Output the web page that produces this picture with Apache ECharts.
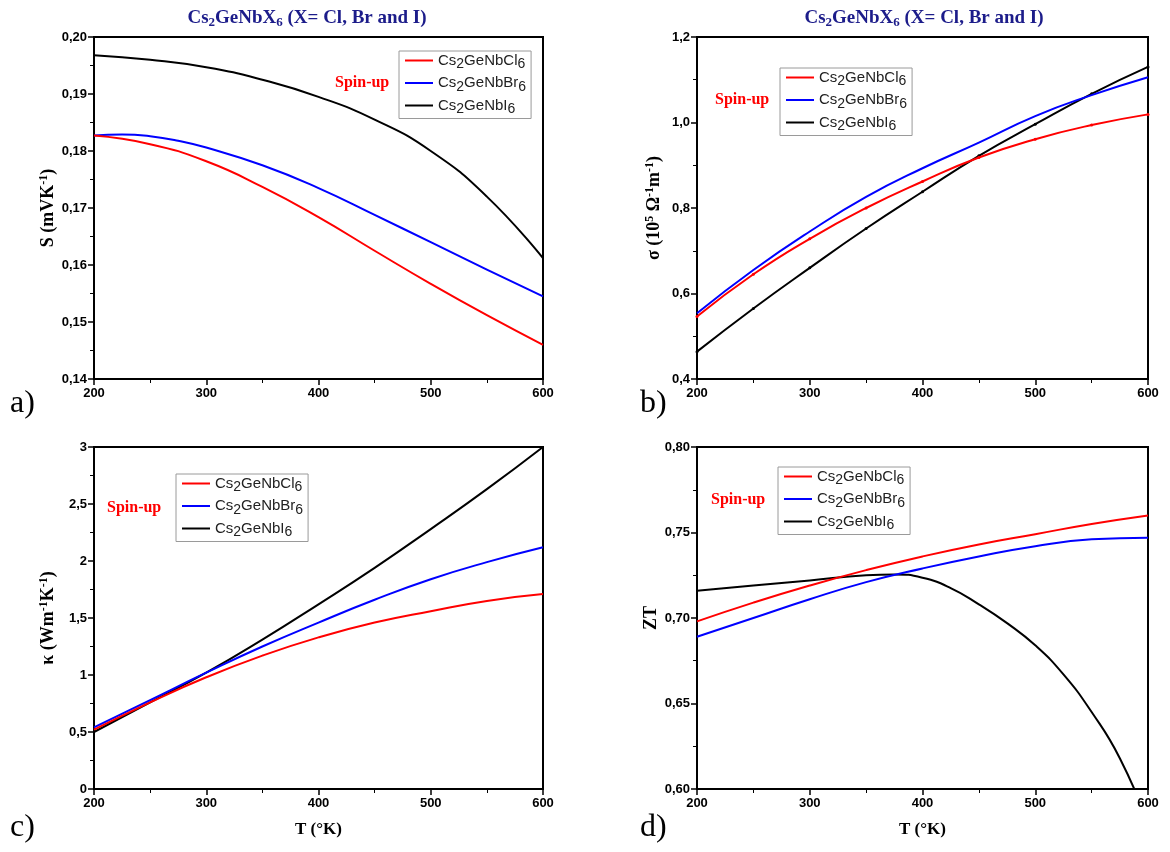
<!DOCTYPE html>
<html><head><meta charset="utf-8">
<script src="https://cdn.jsdelivr.net/npm/echarts@6/dist/echarts.min.js"></script>
<style>html,body{margin:0;padding:0;background:#fff}#c{width:1170px;height:852px}</style>
</head><body><div id="c"></div>
<script>
// ---------- data ----------
const names = ['Cs2GeNbCl6', 'Cs2GeNbBr6', 'Cs2GeNbI6'];
const T = [200, 250, 300, 350, 400, 450, 500, 550, 600];
const Ta = [200, 225, 250, 275, 300, 350, 400, 450, 500, 550, 600];
const Td = [200, 250, 300, 350, 375, 400, 425, 450, 475, 500, 525, 550, 575, 600];

// a) Seebeck S (mV/K)
const S_Cl = [0.1827, 0.1812, 0.1782, 0.1737, 0.1684, 0.1625, 0.1567, 0.1512, 0.1460];
const S_Br = [0.1827, 0.1829, 0.1826, 0.1818, 0.1806, 0.1775, 0.1735, 0.1688, 0.1640, 0.1592, 0.1545];
const S_I  = [0.1968, 0.1960, 0.1947, 0.1925, 0.1895, 0.1855, 0.1800, 0.1720, 0.1612];

// b) sigma (1e5 / Ohm m)
const sig_Cl = [0.546, 0.645, 0.728, 0.800, 0.862, 0.918, 0.961, 0.994, 1.019];
const sig_Br = [0.554, 0.655, 0.745, 0.826, 0.893, 0.953, 1.015, 1.064, 1.106];
const sig_I  = [0.464, 0.565, 0.660, 0.752, 0.838, 0.922, 0.996, 1.067, 1.130];

// c) kappa (W/mK)
const k_Cl = [0.52, 0.76, 0.98, 1.17, 1.33, 1.46, 1.56, 1.65, 1.71];
const k_Br = [0.54, 0.78, 1.02, 1.25, 1.46, 1.66, 1.84, 1.99, 2.12];
const k_I  = [0.50, 0.76, 1.02, 1.31, 1.62, 1.94, 2.28, 2.63, 3.00];

// d) ZT
const zt_Cl = [0.698, 0.709, 0.719, 0.728, 0.736, 0.743, 0.749, 0.755, 0.760];
const zt_Br = [0.689, 0.700, 0.711, 0.721, 0.729, 0.736, 0.742, 0.746, 0.747];
const zt_I  = [0.716, 0.719, 0.722, 0.725, 0.7255, 0.7235, 0.7175, 0.708, 0.697, 0.684, 0.667, 0.645, 0.618, 0.580];

// ---------- helpers ----------
const colors = ['#ff0000', '#0000ff', '#000000'];
const pairs = (xs, ys) => xs.map((x, i) => [x, ys[i]]);
const comma = d => v => (d === null ? String(v) : v.toFixed(d)).replace('.', ',');

const grids = [
  {left: 94, top: 37, width: 449, height: 342},
  {left: 697, top: 37, width: 451, height: 342},
  {left: 94, top: 447, width: 449, height: 342},
  {left: 697, top: 447, width: 451, height: 342}
];

const tickFont = {color: '#000', fontFamily: 'Liberation Sans', fontWeight: 'bold', fontSize: 13};
const nameRich = {
  p: {fontSize: 12, fontFamily: 'Liberation Serif', fontWeight: 'bold', verticalAlign: 'top', padding: [0, 0, 8, 0]}
};

function xAxis(i, withName) {
  return {
    type: 'value', gridIndex: i, min: 200, max: 600, interval: 100,
    axisLine: {lineStyle: {color: '#000', width: 2}},
    axisTick: {length: 6, lineStyle: {color: '#000', width: 1.5}},
    minorTick: {show: true, splitNumber: 2, length: 4, lineStyle: {color: '#000', width: 1}},
    splitLine: {show: false},
    axisLabel: Object.assign({margin: 8}, tickFont),
    name: withName ? 'T (°K)' : '',
    nameLocation: 'middle', nameGap: 32,
    nameTextStyle: {fontFamily: 'Liberation Serif', fontWeight: 'bold', fontSize: 17, color: '#000'}
  };
}
function yAxis(i, min, max, interval, dec, name, gap) {
  return {
    type: 'value', gridIndex: i, min: min, max: max, interval: interval,
    axisLine: {show: true, lineStyle: {color: '#000', width: 2}},
    axisTick: {show: true, length: 6, lineStyle: {color: '#000', width: 1.5}},
    minorTick: {show: true, splitNumber: 2, length: 4, lineStyle: {color: '#000', width: 1}},
    splitLine: {show: false},
    axisLabel: Object.assign({margin: 7, formatter: comma(dec)}, tickFont),
    name: name, nameLocation: 'middle', nameRotate: 90, nameGap: gap,
    nameTextStyle: {fontFamily: 'Liberation Serif', fontWeight: 'bold', fontSize: 18, color: '#000', rich: nameRich}
  };
}

function series(i, xs, ys, c, marks) {
  return {
    type: 'line', name: names[c], xAxisIndex: i, yAxisIndex: i,
    data: pairs(xs, ys), smooth: 0.5,
    showSymbol: !!marks, symbol: 'circle', symbolSize: 3,
    itemStyle: {color: colors[c]},
    lineStyle: {color: colors[c], width: 2},
    clip: true, z: 5 - c
  };
}

const legendRich = {
  n: {fontSize: 15, fontFamily: 'Liberation Sans', color: '#222'},
  s: {fontSize: 14, fontFamily: 'Liberation Sans', color: '#222', verticalAlign: 'bottom', padding: [8, 0, 0, 0]}
};
function legendFmt(name) {
  return '{n|Cs}{s|2}{n|' + name.slice(3, -1) + '}{s|6}';
}
function legend(left, top) {
  return {
    orient: 'vertical', left: left, top: top, data: names,
    backgroundColor: '#fff', borderColor: '#9a9a9a', borderWidth: 1,
    padding: [2, 5, 2, 6], itemGap: 4, itemWidth: 28, itemHeight: 2, icon: 'rect',
    formatter: legendFmt, selectedMode: false,
    textStyle: {rich: legendRich}
  };
}

const titleRich = {
  t: {fontSize: 19, fontFamily: 'Liberation Serif', fontWeight: 'bold', color: '#1c1c8a'},
  s: {fontSize: 13, fontFamily: 'Liberation Serif', fontWeight: 'bold', color: '#1c1c8a', verticalAlign: 'bottom', padding: [9, 0, 0, 0]}
};
const titleText = '{t|Cs}{s|2}{t|GeNbX}{s|6}{t| (X= Cl, Br and I)}';

function txt(x, y, s, font, fill) {
  return {type: 'text', left: x, top: y, z: 10, style: {text: s, font: font, fill: fill}};
}

const option = {
  backgroundColor: '#fff',
  animation: false,
  title: [
    {text: titleText, left: 302, top: 2, textAlign: 'center', textStyle: {rich: titleRich}},
    {text: titleText, left: 919, top: 2, textAlign: 'center', textStyle: {rich: titleRich}}
  ],
  grid: grids.map(g => Object.assign({show: true, borderColor: '#000', borderWidth: 2, backgroundColor: 'transparent'}, g)),
  xAxis: [xAxis(0, false), xAxis(1, false), xAxis(2, true), xAxis(3, true)],
  yAxis: [
    yAxis(0, 0.14, 0.20, 0.01, 2, 'S (mVK{p|-1})', 36),
    yAxis(1, 0.4, 1.2, 0.2, 1, 'σ (10{p|5} Ω{p|-1}m{p|-1})', 33),
    yAxis(2, 0, 3, 0.5, null, 'κ (Wm{p|-1}K{p|-1})', 36),
    yAxis(3, 0.60, 0.80, 0.05, 2, 'ZT', 36)
  ],
  legend: [legend(399, 51), legend(780, 68), legend(176, 474), legend(778, 467)],
  series: [
    series(0, T, S_Cl, 0), series(0, Ta, S_Br, 1), series(0, T, S_I, 2),
    series(1, T, sig_Cl, 0, true), series(1, T, sig_Br, 1), series(1, T, sig_I, 2, true),
    series(2, T, k_Cl, 0), series(2, T, k_Br, 1), series(2, T, k_I, 2),
    series(3, T, zt_Cl, 0), series(3, T, zt_Br, 1), series(3, Td, zt_I, 2)
  ],
  graphic: [
    txt(335, 75, 'Spin-up', 'bold 16px "Liberation Serif"', '#ff0000'),
    txt(715, 92, 'Spin-up', 'bold 16px "Liberation Serif"', '#ff0000'),
    txt(107, 500, 'Spin-up', 'bold 16px "Liberation Serif"', '#ff0000'),
    txt(711, 492, 'Spin-up', 'bold 16px "Liberation Serif"', '#ff0000'),
    txt(10, 388, 'a)', '32px "Liberation Serif"', '#000'),
    txt(640, 388, 'b)', '32px "Liberation Serif"', '#000'),
    txt(10, 812, 'c)', '32px "Liberation Serif"', '#000'),
    txt(640, 812, 'd)', '32px "Liberation Serif"', '#000')
  ]
};

const chart = echarts.init(document.getElementById('c'), null, {renderer: 'canvas'});
chart.setOption(option);
</script>
</body></html>
